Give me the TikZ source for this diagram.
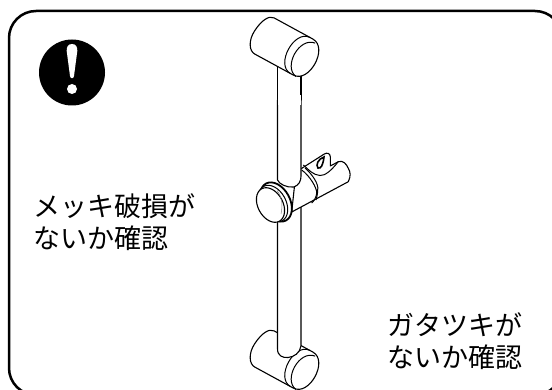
\documentclass[tikz,border=0pt]{standalone}
\usepackage{fontspec}
\newfontfamily\jpfont{Noto Sans CJK JP}
\tikzset{
    partline/.style={line width=1.1pt, fill=white, line join=round},
    thinline/.style={line width=1pt},
    labeltext/.style={font=\jpfont\fontsize{27}{32}\selectfont, align=left, anchor=west, inner sep=0pt},
    barcap/.pic={
        \draw[partline] (-44,-20.5) -- (0,-20.5) .. controls (18.3,-20.5) and (18.3,20.5) .. (0,20.5) -- (-44,20.5) .. controls (-50,20.5) and (-56,12) .. (-55,0) .. controls (-54,-12) and (-50,-20.5) .. (-44,-20.5) -- cycle;
        \draw[thinline] (-3,-20.5) .. controls (-21,-20.5) and (-21,20.5) .. (-3,20.5);
        \draw[thinline] (4,-18) .. controls (-13,-16) and (-13,18) .. (3,20.5);
    }
}
\begin{document}
\begin{tikzpicture}[x=1pt, y=-1pt]
    \clip (0,0) rectangle (552,390);

    % Frame
    \draw[line width=2.5pt, rounded corners=27pt] (9,11) rectangle (562,395);

    % Warning mark
    \fill[black] (72,72.5) circle (33pt);
    \fill[white] (72,44) .. controls (68,44) and (66.5,47) .. (66.7,51) -- (70,76) .. controls (70.4,79) and (73.6,79) .. (74,76) -- (77.3,51) .. controls (77.5,47) and (76,44) .. (72,44) -- cycle;
    \fill[white] (72,89) circle (5pt);

    % Lower end and lower rod
    \pic[rotate=-28.6] at (303,370) {barcap};
    \draw[partline] (277.5,200) -- (277.5,349) .. controls (277.5,356) and (283,358) .. (288,357.5) .. controls (294,357) and (300,353) .. (301,346) -- (301,200);

    % Upper end
    \draw[partline, fill=white] (277.5,40) rectangle (301,100);
    \pic[rotate=-28.6] at (303,57) {barcap};

    % Holder body
    \draw[partline] (291.7,212) -- (348.3,181.7) .. controls (351,176) and (350.5,172) .. (348.3,168.3) .. controls (346.5,164) and (343,160) .. (338.3,161.7) -- (330.3,166) -- (330.3,156.7) .. controls (330,153) and (327,152.5) .. (324.3,154) -- (296,172) -- cycle;
    \draw[thinline] (303.3,165) .. controls (309,170) and (313,175) .. (320,175.5) .. controls (325,175.5) and (330,172) .. (338.3,161.7);
    \draw[line width=1.6pt, fill=white] (324,157) .. controls (318,159) and (315.5,165) .. (318,168) .. controls (321,169) and (323,165) .. (324,157) -- cycle;
    \draw[thinline] (301.7,170) .. controls (310,176) and (317,188) .. (316.7,193) .. controls (316.5,197) and (314,201) .. (311.7,203);
    \draw[thinline] (305,168) .. controls (312,174) and (319,184) .. (317.7,190) .. controls (317.5,194) and (317,197) .. (316,200);

    % Upper rod in front of the holder
    \draw[partline] (277.5,100) -- (277.5,180) .. controls (279,184) and (287,188) .. (294,187) .. controls (299,185) and (301,181) .. (301,176) -- (301,100);
    \fill[white] (278,95) rectangle (300.5,105);

    % Knob
    \draw[line width=1.8pt, fill=white, shift={(276,202)}, rotate=28.6] (0,0) ellipse (14pt and 21pt);
    \draw[thinline, fill=white, shift={(273,203.5)}, rotate=28.6] (0,0) ellipse (13pt and 19.5pt);
    \draw[partline, shift={(270.5,205)}, rotate=28.6] (0,0) ellipse (12.5pt and 18.5pt);
    \draw[line width=0.5pt, gray] (277,190.5) .. controls (282,197) and (283,204) .. (281,214);

    % Labels
    \node[labeltext] (platinglabel) at (33,222.5) {メッキ破損が\\ないか確認};
    \node[labeltext] (loosenesslabel) at (387,341) {ガタツキが\\ないか確認};
\end{tikzpicture}
\end{document}
